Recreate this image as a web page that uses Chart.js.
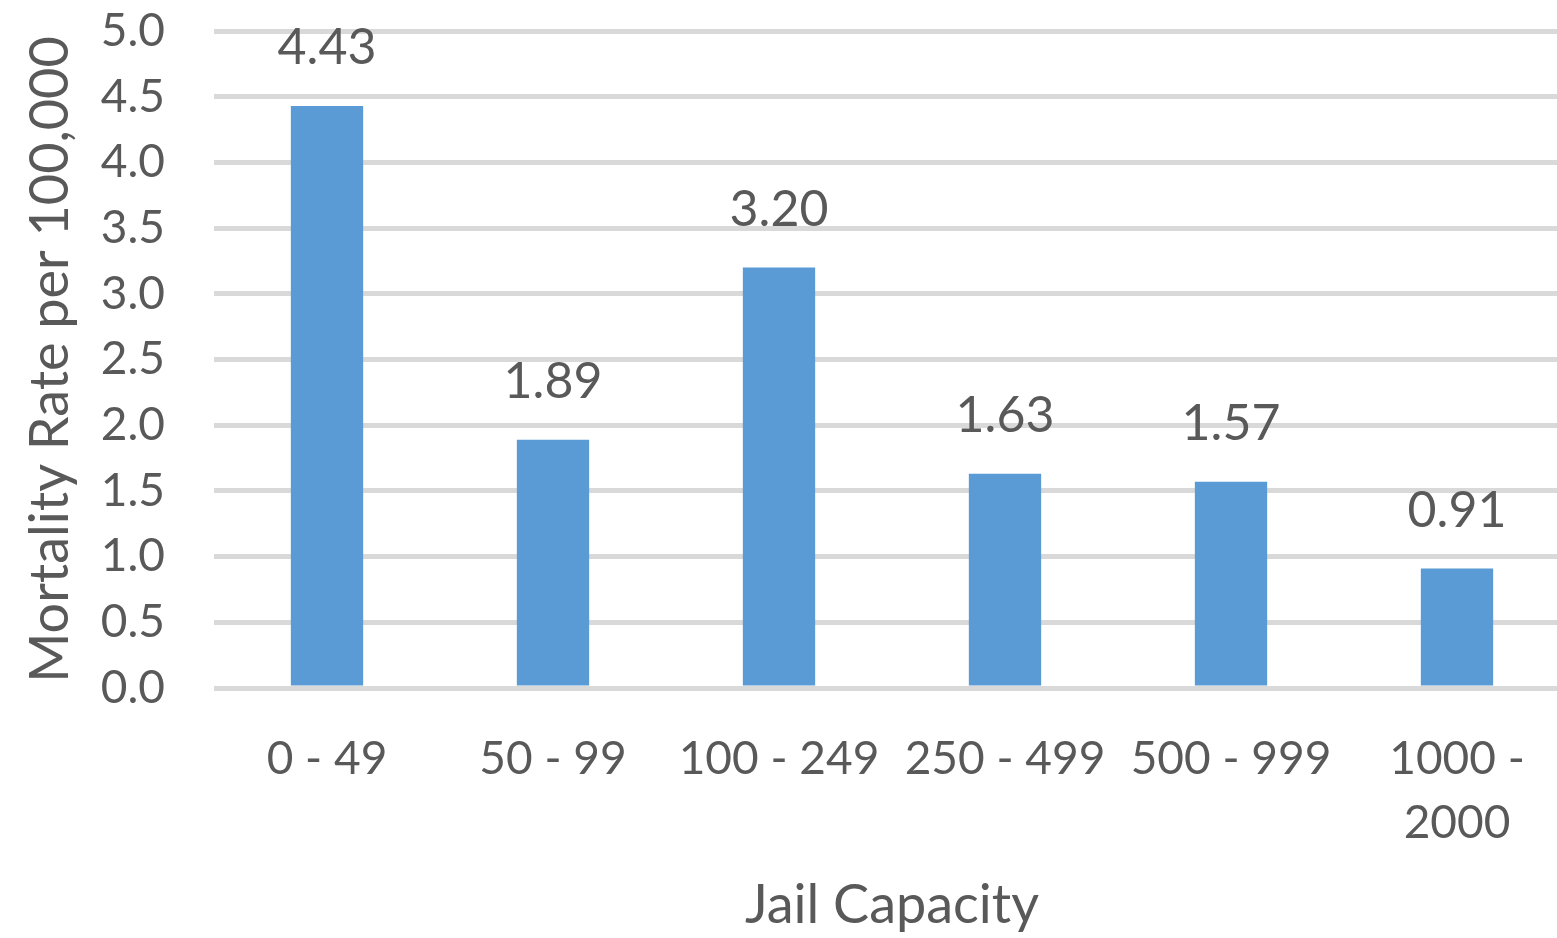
<!DOCTYPE html>
<html>
<head>
<meta charset="utf-8">
<title>Mortality Rate by Jail Capacity</title>
<script src="https://cdn.jsdelivr.net/npm/chart.js@4"></script>
<style>
  html, body { margin: 0; padding: 0; background: #fff; overflow: hidden; }
  #wrap { position: relative; width: 1580px; height: 938px; }
</style>
</head>
<body>
<div id="wrap"><canvas id="chartColumn"></canvas></div>
<script>
const categories = [["0 - 49"], ["50 - 99"], ["100 - 249"], ["250 - 499"], ["500 - 999"], ["1000 -", "2000"]];
const rates = [4.43, 1.89, 3.20, 1.63, 1.57, 0.91];
const yTicks = [0.0, 0.5, 1.0, 1.5, 2.0, 2.5, 3.0, 3.5, 4.0, 4.5, 5.0];

const textColor = "#595959";
const fontFamily = "Lato, 'Open Sans', sans-serif";

// value labels above each bar
const barLabels = {
    id: "barLabels",
    afterDatasetsDraw(chart) {
        const ctx = chart.ctx;
        const meta = chart.getDatasetMeta(0);
        ctx.save();
        ctx.font = "50px " + fontFamily;
        ctx.fillStyle = textColor;
        ctx.textAlign = "center";
        ctx.textBaseline = "middle";
        meta.data.forEach(function (bar, i) {
            ctx.fillText(rates[i].toFixed(2), bar.x, bar.y - 58);
        });
        ctx.restore();
    },
};

const data = {
    labels: categories,
    datasets: [
        {
            label: "Mortality Rate per 100,000",
            backgroundColor: "#5b9bd5",
            data: rates,
            categoryPercentage: 1,
            barPercentage: 0.32,
        },
    ],
};

const config = {
    type: "bar",
    data: data,
    plugins: [barLabels],
    options: {
        responsive: true,
        maintainAspectRatio: false,
        animation: false,
        layout: { padding: { top: 31, right: 10, left: 0, bottom: 0 } },
        plugins: {
            legend: { display: false },
            tooltip: { enabled: false },
        },
        scales: {
            x: {
                grid: { display: false },
                border: { display: false },
                ticks: {
                    color: textColor,
                    font: { family: fontFamily, size: 46, lineHeight: 1.4 },
                    padding: 31,
                    maxRotation: 0,
                    autoSkip: false,
                },
                title: {
                    display: true,
                    text: "Jail Capacity",
                    color: textColor,
                    font: { family: fontFamily, size: 54 },
                    padding: { top: 0, bottom: 0 },
                },
                afterFit(scale) {
                    scale.height = 250;
                    scale.paddingLeft = 0;
                    scale.paddingRight = 0;
                },
            },
            y: {
                min: yTicks[0],
                max: yTicks[yTicks.length - 1],
                afterBuildTicks(scale) {
                    scale.ticks = yTicks.map(function (v) { return { value: v }; });
                },
                grid: { color: "#d9d9d9", lineWidth: 5, drawTicks: false },
                border: { display: false },
                ticks: {
                    color: textColor,
                    font: { family: fontFamily, size: 46 },
                    padding: 49,
                    callback: function (v) { return Number(v).toFixed(1); },
                },
                title: {
                    display: true,
                    text: "Mortality Rate per 100,000",
                    color: textColor,
                    font: { family: fontFamily, size: 54 },
                    padding: { top: 18, bottom: 0 },
                },
                afterFit(scale) {
                    scale.width = 214;
                    scale.paddingTop = 0;
                    scale.paddingBottom = 0;
                },
            },
        },
    },
};

const chartColumnElement = document.getElementById("chartColumn");
if (chartColumnElement) {
    new Chart(chartColumnElement, config);
}
</script>
</body>
</html>
